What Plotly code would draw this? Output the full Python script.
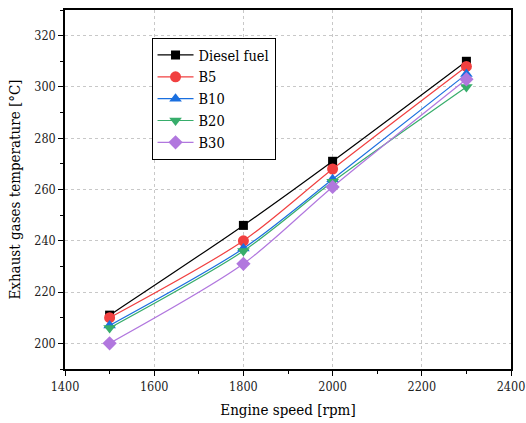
import plotly.graph_objects as go

speed = [1500, 1800, 2000, 2300]
diesel = [211, 246, 271, 310]
b5 = [210, 240, 268, 308]
b10 = [207, 237, 264, 305]
b20 = [206, 236, 263, 300]
b30 = [200, 231, 261, 303]

series = [
    ("Diesel fuel", diesel, "#000000", "square", 9),
    ("B5", b5, "#F14040", "circle", 11),
    ("B10", b10, "#1A6FDF", "triangle-up", 11),
    ("B20", b20, "#37AD6B", "triangle-down", 11),
    ("B30", b30, "#B177DE", "diamond", 11),
]

fig = go.Figure()
for name, vals, color, sym, size in series:
    fig.add_trace(go.Scatter(
        x=speed, y=vals, name=name, mode="lines+markers",
        line=dict(color=color, width=1.2, shape="spline", smoothing=0.8),
        marker=dict(symbol=sym, size=size, color=color),
    ))

font = "DejaVu Serif Condensed"
axis_common = dict(
    showline=True, linecolor="black", linewidth=1.5, mirror=True,
    ticks="outside", ticklen=5, tickwidth=1.2, tickcolor="black",
    showgrid=True, gridcolor="#c8c8c8", griddash="dot", gridwidth=1,
    zeroline=False, tickfont=dict(family=font, size=12.5, color="#222"),
    ticklabeloverflow="allow",
)

fig.update_layout(
    width=526, height=423,
    margin=dict(l=65, r=15, t=10, b=54, autoexpand=False),
    paper_bgcolor="white", plot_bgcolor="white",
    font=dict(family=font, color="black"),
    xaxis=dict(range=[1400, 2400], dtick=200,
               minor=dict(dtick=100, ticks="outside", ticklen=3, tickcolor="black", showgrid=False),
               title=dict(text="Engine speed [rpm]", font=dict(family=font, size=15), standoff=12),
               **axis_common),
    yaxis=dict(range=[190, 330], dtick=20,
               minor=dict(dtick=10, ticks="outside", ticklen=3, tickcolor="black", showgrid=False),
               title=dict(text="Exhaust gases temperature [°C]", font=dict(family=font, size=15), standoff=10),
               **axis_common),
    legend=dict(x=0.194, y=0.922, xanchor="left", yanchor="top",
                bordercolor="black", borderwidth=1, bgcolor="white",
                font=dict(family=font, size=14.5), tracegroupgap=0,
                itemwidth=36),
    showlegend=True,
)

fig.write_html("out.html")
